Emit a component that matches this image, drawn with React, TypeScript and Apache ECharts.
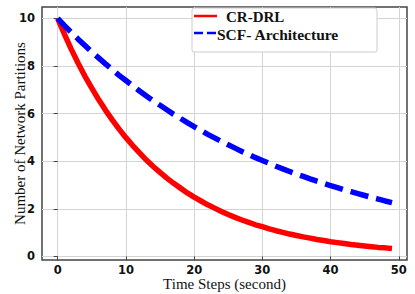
import React, { useEffect, useRef } from "react";
import * as echarts from "echarts";

const timeSteps: number[] = [
  0, 1, 2, 3, 4, 5, 6, 7, 8, 9, 10, 11, 12, 13, 14, 15, 16, 17, 18, 19, 20, 21, 22, 23, 24,
  25, 26, 27, 28, 29, 30, 31, 32, 33, 34, 35, 36, 37, 38, 39, 40, 41, 42, 43, 44, 45, 46, 47, 48, 49,
];

const crDrl: number[] = [
  10.0, 9.33, 8.7, 8.12, 7.57, 7.07, 6.59, 6.15, 5.74, 5.35, 4.99, 4.66, 4.35, 4.05, 3.78, 3.53,
  3.29, 3.07, 2.87, 2.67, 2.49, 2.33, 2.17, 2.03, 1.89, 1.76, 1.64, 1.53, 1.43, 1.33, 1.25, 1.16,
  1.08, 1.01, 0.94, 0.88, 0.82, 0.77, 0.71, 0.67, 0.62, 0.58, 0.54, 0.5, 0.47, 0.44, 0.41, 0.38,
  0.36, 0.33,
];

const scfArch: number[] = [
  10.0, 9.7, 9.41, 9.13, 8.86, 8.59, 8.34, 8.09, 7.85, 7.61, 7.39, 7.17, 6.95, 6.74, 6.54, 6.35,
  6.16, 5.97, 5.8, 5.62, 5.45, 5.29, 5.13, 4.98, 4.83, 4.69, 4.55, 4.41, 4.28, 4.15, 4.03, 3.91,
  3.79, 3.68, 3.57, 3.46, 3.36, 3.26, 3.16, 3.07, 2.98, 2.89, 2.8, 2.72, 2.64, 2.56, 2.48, 2.41,
  2.33, 2.26,
];

const xTicks: number[] = [0, 10, 20, 30, 40, 50];
const yTicks: number[] = [0, 2, 4, 6, 8, 10];
const seriesNames: string[] = ["CR-DRL", "SCF- Architecture"];

export default function App() {
  const ref = useRef<HTMLDivElement>(null);

  useEffect(() => {
    if (!ref.current) return;
    const chart = echarts.init(ref.current, undefined, { renderer: "svg" });
    const tickFont = {
      fontFamily: "DejaVu Sans",
      fontSize: 11.5,
      fontWeight: "bold" as const,
      color: "#111",
      lineHeight: 12,
    };
    const serif = "Liberation Serif";
    chart.setOption({
      animation: false,
      backgroundColor: "#ffffff",
      grid: {
        left: 42,
        right: 8,
        top: 7,
        bottom: 34,
        containLabel: false,
        outerBoundsMode: "none",
        show: true,
        borderColor: "#444",
        borderWidth: 1.5,
        backgroundColor: "transparent",
      },
      xAxis: {
        type: "value",
        min: -2.3,
        max: 51.2,
        name: "Time Steps (second)",
        nameLocation: "middle",
        nameGap: 16.5,
        nameMoveOverlap: false,
        nameTextStyle: {
          fontFamily: serif,
          fontSize: 15,
          fontWeight: "normal",
          color: "#111",
          lineHeight: 15,
        },
        axisLine: { show: false },
        axisTick: {
          show: true,
          customValues: xTicks,
          length: 4,
          lineStyle: { color: "#444", width: 1 },
        },
        axisLabel: { ...tickFont, margin: 4, customValues: xTicks },
        splitLine: { show: true, lineStyle: { color: "#d4d4d4", width: 1 } },
      },
      yAxis: {
        type: "value",
        min: -0.15,
        max: 10.48,
        name: "Number of Network Partitions",
        nameLocation: "middle",
        nameGap: 14.5,
        nameRotate: 90,
        nameMoveOverlap: false,
        nameTextStyle: {
          fontFamily: serif,
          fontSize: 15,
          fontWeight: "normal",
          color: "#111",
        },
        axisLine: { show: false },
        axisTick: {
          show: true,
          customValues: yTicks,
          length: 4,
          lineStyle: { color: "#444", width: 1 },
        },
        axisLabel: { ...tickFont, margin: 7, customValues: yTicks },
        splitLine: { show: true, lineStyle: { color: "#d4d4d4", width: 1 } },
      },
      series: [
        {
          name: seriesNames[0],
          type: "line",
          data: timeSteps.map((t, i) => [t, crDrl[i]]),
          showSymbol: false,
          symbol: "none",
          smooth: false,
          lineStyle: { color: "#ff0000", width: 5.5, cap: "butt" },
          z: 2,
        },
        {
          name: seriesNames[1],
          type: "line",
          data: timeSteps.map((t, i) => [t, scfArch[i]]),
          showSymbol: false,
          symbol: "none",
          smooth: false,
          lineStyle: {
            color: "#0000ff",
            width: 5.5,
            type: [18.5, 8],
            cap: "butt",
          },
          z: 3,
        },
      ],
      graphic: [
        {
          type: "rect",
          shape: { x: 192, y: 8, width: 185, height: 44, r: 2 },
          style: { fill: "#ffffff", stroke: "#cccccc", lineWidth: 1 },
          z: 100,
        },
        {
          type: "line",
          shape: { x1: 194, y1: 16, x2: 217, y2: 16 },
          style: { stroke: "#ff0000", lineWidth: 2.5 },
          z: 101,
        },
        {
          type: "line",
          shape: { x1: 194, y1: 33, x2: 217, y2: 33 },
          style: { stroke: "#0000ff", lineWidth: 2.5, lineDash: [9, 4] },
          z: 101,
        },
        {
          type: "text",
          x: 226,
          y: 17,
          style: {
            text: seriesNames[0],
            fontFamily: serif,
            fontWeight: "bold",
            fontSize: 15,
            fill: "#111",
            verticalAlign: "middle",
          },
          z: 101,
        },
        {
          type: "text",
          x: 217,
          y: 34,
          style: {
            text: seriesNames[1],
            fontFamily: serif,
            fontWeight: "bold",
            fontSize: 15.5,
            fill: "#111",
            verticalAlign: "middle",
          },
          z: 101,
        },
      ],
    });
    return () => chart.dispose();
  }, []);

  return <div ref={ref} style={{ width: 415, height: 294, position: "absolute", left: 0, top: 0 }} />;
}
